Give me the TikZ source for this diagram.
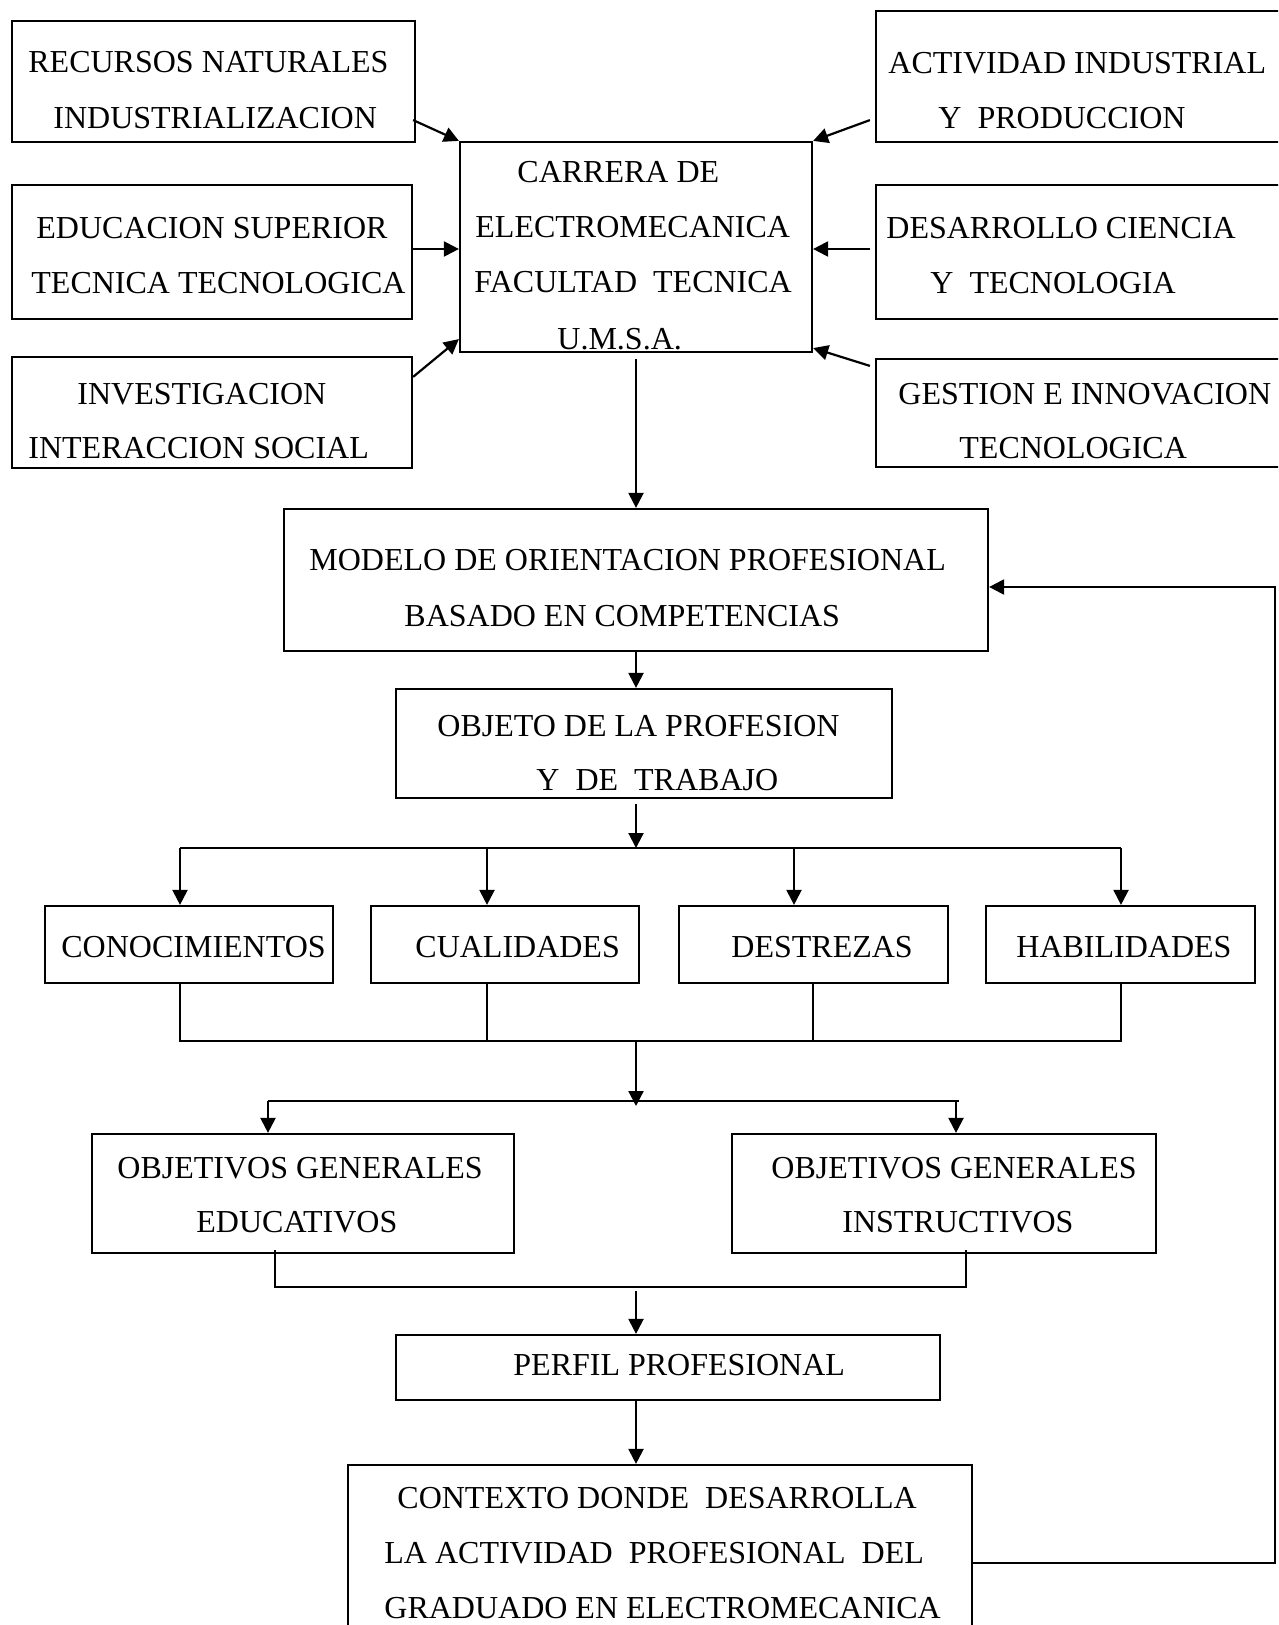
\documentclass[tikz,border=0pt]{standalone}
\usepackage{fontspec}
\setmainfont{Liberation Serif}
\usetikzlibrary{arrows.meta,fit,calc}
\begin{document}
\begin{tikzpicture}[x=0.5pt,y=-0.5pt,
  bx/.style={draw,inner sep=0pt,line width=1.1pt},
  lbl/.style={anchor=base west,inner sep=0pt,font=\fontsize{16}{19}\selectfont},
  wire/.style={line width=1.1pt},
  arr/.style={wire,-{Triangle[length=7.5pt,width=7.5pt]}}]
\clip (0,0) rectangle (1278,1625);
\fill[white] (0,0) rectangle (1278,1625);

% ---- outer influence boxes
\node[bx,fit={(12,21)(415,142)}]   (rec) {};
\node[bx,fit={(12,185)(412,319)}]  (edu) {};
\node[bx,fit={(12,357)(412,468)}]  (inv) {};
\node[bx,fit={(876,11)(1300,142)}] (act) {};
\node[bx,fit={(876,185)(1300,319)}](des) {};
\node[bx,fit={(876,359)(1300,467)}](ges) {};
% ---- central box
\node[bx,fit={(460,142)(812,352)}] (car) {};
% ---- main column
\node[bx,fit={(284,509)(988,651)}] (mod) {};
\node[bx,fit={(396,689)(892,798)}] (obj) {};
\node[bx,fit={(45,906)(333,983)}]  (con) {};
\node[bx,fit={(371,906)(639,983)}] (cua) {};
\node[bx,fit={(679,906)(948,983)}] (dtz) {};
\node[bx,fit={(986,906)(1255,983)}](hab) {};
\node[bx,fit={(92,1134)(514,1253)}]  (oge) {};
\node[bx,fit={(732,1134)(1156,1253)}](ogi) {};
\node[bx,fit={(396,1335)(940,1400)}] (per) {};
\node[bx,fit={(348,1465)(972,1700)}] (ctx) {};

% ---- labels
\node[lbl] at (28,73)  {RECURSOS NATURALES};
\node[lbl] at (53,129) {INDUSTRIALIZACION};
\node[lbl] at (36,239) {EDUCACION SUPERIOR};
\node[lbl] at (31,294) {TECNICA TECNOLOGICA};
\node[lbl] at (77,405) {INVESTIGACION};
\node[lbl] at (28,459) {INTERACCION SOCIAL};
\node[lbl] at (888,74)  {ACTIVIDAD INDUSTRIAL};
\node[lbl] at (938,129) {Y~ PRODUCCION};
\node[lbl] at (886,239) {DESARROLLO CIENCIA};
\node[lbl] at (930,294) {Y~ TECNOLOGIA};
\node[lbl] at (898,405) {GESTION E INNOVACION};
\node[lbl] at (959,459) {TECNOLOGICA};
\node[lbl] at (517,183) {CARRERA DE};
\node[lbl] at (475,238) {ELECTROMECANICA};
\node[lbl] at (474,293) {FACULTAD~ TECNICA};
\node[lbl] at (557,350) {U.M.S.A.};
\node[lbl] at (309,570) {MODELO DE ORIENTACION PROFESIONAL};
\node[lbl] at (404,626) {BASADO EN COMPETENCIAS};
\node[lbl] at (437,736) {OBJETO DE LA PROFESION};
\node[lbl] at (536,790) {Y~ DE~ TRABAJO};
\node[lbl] at (61,957)   {CONOCIMIENTOS};
\node[lbl] at (415,957)  {CUALIDADES};
\node[lbl] at (731,957)  {DESTREZAS};
\node[lbl] at (1016,957) {HABILIDADES};
\node[lbl] at (117,1178) {OBJETIVOS GENERALES};
\node[lbl] at (196,1232) {EDUCATIVOS};
\node[lbl] at (771,1178) {OBJETIVOS GENERALES};
\node[lbl] at (842,1232) {INSTRUCTIVOS};
\node[lbl] at (513,1375) {PERFIL PROFESIONAL};
\node[lbl] at (397,1508) {CONTEXTO DONDE~ DESARROLLA};
\node[lbl] at (384,1563) {LA ACTIVIDAD~ PROFESIONAL~ DEL};
\node[lbl] at (384,1618) {GRADUADO EN ELECTROMECANICA};

% ---- inputs into the central box
\draw[arr] ($(rec.south east)+(-3,-23)$) -- (car.north west);
\draw[arr] ($(edu.east)+(0,-3)$) -- ($(edu.east -| car.west)+(0,-3)$);
\draw[arr] ($(inv.north east)+(0,21)$) -- ($(car.south west)+(0,-14)$);
\draw[arr] ($(act.south west)+(-5,-23)$) -- (car.north east);
\draw[arr] ($(des.west)+(-5,-3)$) -- ($(des.west -| car.east)+(0,-3)$);
\draw[arr] ($(ges.north west)+(-5,8)$) -- ($(car.south east)+(0,-5)$);

% ---- main flow
\draw[arr] ($(car.south)+(0,6)$) -- (mod.north);
\draw[arr] (mod.south) -- (mod.south |- obj.north);

% split towards the four competences
\coordinate (sp) at (636,848);
\coordinate (s1) at (180,848);
\coordinate (s2) at (487,848);
\coordinate (s3) at (794,848);
\coordinate (s4) at (1121,848);
\draw[arr] ($(obj.south -| sp)+(0,5)$) -- (sp);
\draw[wire] (s1) -- (s4);
\draw[arr] (s1) -- (s1 |- con.north);
\draw[arr] (s2) -- (s2 |- cua.north);
\draw[arr] (s3) -- (s3 |- dtz.north);
\draw[arr] (s4) -- (s4 |- hab.north);

% join of the four competences
\coordinate (j1) at (180,1041);
\coordinate (j2) at (487,1041);
\coordinate (j3) at (813,1041);
\coordinate (j4) at (1121,1041);
\coordinate (jm) at (636,1041);
\draw[wire] (j1 |- con.south) -- (j1) -- (j4) -- (j4 |- hab.south);
\draw[wire] (j2 |- cua.south) -- (j2);
\draw[wire] (j3 |- dtz.south) -- (j3);

% split towards the general objectives
\coordinate (om) at (636,1101);
\coordinate (o1) at (268,1101);
\coordinate (o2) at (959,1101);
\coordinate (o2a) at (956,1101);
\draw[arr] (jm) -- ($(om)+(0,5)$);
\draw[wire] (o1) -- (o2);
\draw[arr] (o1) -- (o1 |- oge.north);
\draw[arr] (o2a) -- (o2a |- ogi.north);

% join of the objectives
\coordinate (q1) at (275,1287);
\coordinate (q2) at (966,1287);
\coordinate (qm) at (636,1291);
\draw[wire] ($(q1 |- oge.south)+(0,-4)$) -- (q1) -- (q2) -- ($(q2 |- ogi.south)+(0,-4)$);
\draw[arr] (qm) -- (qm |- per.north);
\draw[arr] (qm |- per.south) -- (qm |- ctx.north);

% feedback loop
\coordinate (fb1) at (1275,1563);
\coordinate (fb2) at (1275,587);
\draw[arr] (fb1 -| ctx.east) -- (fb1) -- (fb2) -- (fb2 -| mod.east);
\end{tikzpicture}
\end{document}
